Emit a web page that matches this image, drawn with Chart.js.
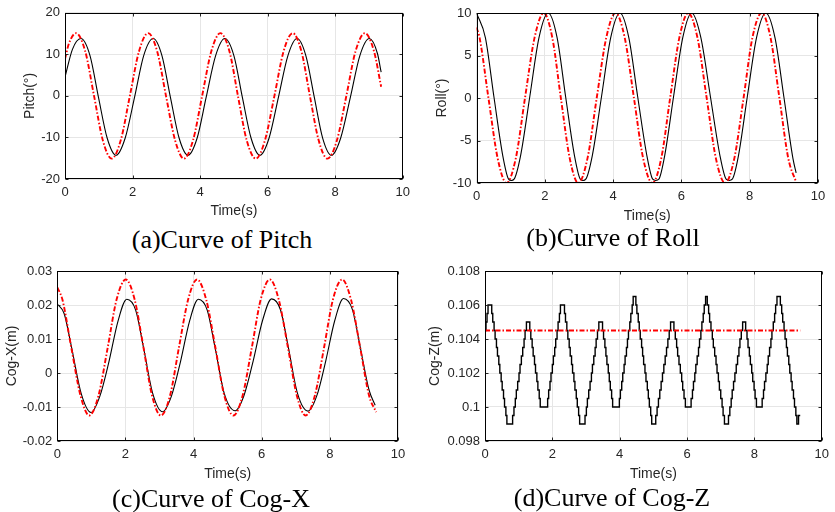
<!DOCTYPE html>
<html>
<head>
<meta charset="utf-8">
<script src="https://cdn.jsdelivr.net/npm/chart.js@4.4.0/dist/chart.umd.min.js"></script>
<style>
  body { margin: 0; width: 835px; height: 512px; background: #fff; position: relative; overflow: hidden; }
  .panel { position: absolute; }
  .caption {
    position: absolute;
    font-family: 'Liberation Serif', 'Times New Roman', serif;
    font-size: 26px;
    line-height: 1;
    color: #000;
    white-space: nowrap;
    transform: translate(-50%, -50%);
  }
</style>
</head>
<body>
<div class="panel" style="left:0px;top:0px;width:416px;height:224px"><canvas id="chartPitch"></canvas></div>
<div class="panel" style="left:417px;top:0px;width:418px;height:228px"><canvas id="chartRoll"></canvas></div>
<div class="panel" style="left:0px;top:256px;width:416px;height:230px"><canvas id="chartCogX"></canvas></div>
<div class="panel" style="left:417px;top:256px;width:418px;height:230px"><canvas id="chartCogZ"></canvas></div>

<div class="caption" style="left:222px;top:240px">(a)Curve of Pitch</div>
<div class="caption" style="left:613px;top:238px">(b)Curve of Roll</div>
<div class="caption" style="left:211px;top:499px">(c)Curve of Cog-X</div>
<div class="caption" style="left:612px;top:498px">(d)Curve of Cog-Z</div>

<script>
/* axis ticks */
const timeTicks = [0, 2, 4, 6, 8, 10];
const timeTickLabels = ['0', '2', '4', '6', '8', '10'];
const pitchTicks = [-20, -10, 0, 10, 20];
const pitchTickLabels = ['-20', '-10', '0', '10', '20'];
const rollTicks = [-10, -5, 0, 5, 10];
const rollTickLabels = ['-10', '-5', '0', '5', '10'];
const cogXTicks = [-0.02, -0.01, 0, 0.01, 0.02, 0.03];
const cogXTickLabels = ['-0.02', '-0.01', '0', '0.01', '0.02', '0.03'];
const cogZTicks = [0.098, 0.1, 0.102, 0.104, 0.106, 0.108];
const cogZTickLabels = ['0.098', '0.1', '0.102', '0.104', '0.106', '0.108'];

/* pitch (deg) - black solid / red dash-dot */
const pitchBlackTime = [0, 0.22, 0.47, 0.74, 0.99, 1.25, 1.51, 1.78, 2.06, 2.33, 2.61, 2.87, 3.12, 3.38, 3.64, 3.91, 4.18, 4.46, 4.73,
  5.0, 5.25, 5.51, 5.77, 6.04, 6.32, 6.6, 6.87, 7.13, 7.38, 7.63, 7.89, 8.16, 8.45, 8.73, 9.01, 9.25, 9.36];
const pitchBlack = [4.5, 11.2, 13.8, 9.7, -0.3, -10.2, -14.3, -10.2, -0.3, 9.7, 13.8, 9.7, -0.3, -10.2, -14.3, -10.2, -0.3, 9.7, 13.8,
  9.7, -0.3, -10.2, -14.3, -10.2, -0.3, 9.7, 13.8, 9.7, -0.3, -10.2, -14.3, -10.2, -0.3, 9.7, 13.8, 10.2, 5.7];
const pitchRedTime = [0, 0.12, 0.33, 0.6, 0.86, 1.12, 1.38, 1.65, 1.92, 2.19, 2.46, 2.73, 2.99, 3.26, 3.52, 3.79, 4.06, 4.33, 4.6,
  4.87, 5.12, 5.38, 5.65, 5.92, 6.2, 6.47, 6.74, 7.0, 7.25, 7.51, 7.77, 8.05, 8.33, 8.6, 8.88, 9.15, 9.36];
const pitchRed = [8.9, 12.7, 15.1, 10.7, 0, -10.7, -15.1, -10.7, 0, 10.7, 15.1, 10.7, 0, -10.7, -15.1, -10.7, 0, 10.7, 15.1,
  10.7, 0, -10.7, -15.1, -10.7, 0, 10.7, 15.1, 10.7, 0, -10.7, -15.1, -10.7, 0, 10.7, 15.1, 10.7, 2.2];

/* roll (deg) */
const rollBlackTime = [0, 0.26, 0.51, 0.77, 0.94, 1.02, 1.1, 1.29, 1.56, 1.83, 2.1, 2.36, 2.61, 2.87, 3.04, 3.12, 3.2, 3.39, 3.66, 3.93,
  4.2, 4.46, 4.72, 4.99, 5.16, 5.25, 5.34, 5.51, 5.77, 6.04, 6.3, 6.57, 6.85, 7.13, 7.31, 7.4, 7.49, 7.67, 7.93, 8.2,
  8.47, 8.74, 9.0, 9.27, 9.36];
const rollBlack = [10, 7.1, 0.15, -6.8, -9.55, -9.7, -9.55, -6.8, 0.15, 7.1, 10, 7.1, 0.15, -6.8, -9.55, -9.7, -9.55, -6.8, 0.15, 7.1,
  10, 7.1, 0.15, -6.8, -9.55, -9.7, -9.55, -6.8, 0.15, 7.1, 10, 7.1, 0.15, -6.8, -9.55, -9.7, -9.55, -6.8, 0.15, 7.1,
  10, 7.1, 0.15, -7.2, -8.8];
const rollRedTime = [0, 0.09, 0.35, 0.62, 0.88, 1.15, 1.42, 1.7, 1.97, 2.22, 2.47, 2.73, 2.98, 3.25, 3.52, 3.8, 4.07, 4.34, 4.61,
  4.88, 5.15, 5.41, 5.67, 5.94, 6.2, 6.47, 6.74, 7.01, 7.28, 7.55, 7.82, 8.08, 8.35, 8.61, 8.87, 9.13, 9.36];
const rollRed = [8.3, 7.1, 0, -7.1, -10, -7.1, 0, 7.1, 10, 7.1, 0, -7.1, -10, -7.1, 0, 7.1, 10, 7.1, 0,
  -7.1, -10, -7.1, 0, 7.1, 10, 7.1, 0, -7.1, -10, -7.1, 0, 7.1, 10, 7.1, 0, -7.1, -9.9];

/* Cog-X (m) */
const cogXBlackTime = [0, 0.2, 0.42, 0.7, 0.99, 1.25, 1.52, 1.78, 2.04, 2.3, 2.53, 2.8, 3.09, 3.35, 3.62, 3.88, 4.14,
  4.4, 4.63, 4.9, 5.22, 5.48, 5.75, 6.02, 6.29, 6.55, 6.78, 7.05, 7.36, 7.62, 7.88, 8.14, 8.4, 8.66, 8.89, 9.15, 9.33];
const cogXBlack = [0.0203, 0.0175, 0.0075, -0.006, -0.0116, -0.0068, 0.0035, 0.0152, 0.0217, 0.0185, 0.0075, -0.006, -0.0114,
  -0.0068, 0.0035, 0.0152, 0.0217, 0.0185, 0.0075, -0.006, -0.0111, -0.0066, 0.0036, 0.0153, 0.0218, 0.0186, 0.0076, -0.006,
  -0.0112, -0.0066, 0.0036, 0.0153, 0.0219, 0.0187, 0.0077, -0.005, -0.0095];
const cogXRedTime = [0, 0.15, 0.41, 0.68, 0.94, 1.21, 1.48, 1.74, 2.01, 2.27, 2.53, 2.78, 3.04, 3.31, 3.57, 3.84, 4.1,
  4.37, 4.64, 4.9, 5.17, 5.44, 5.71, 5.97, 6.24, 6.5, 6.77, 7.03, 7.29, 7.56, 7.83, 8.09, 8.36, 8.62, 8.89, 9.15, 9.36];
const cogXRed = [0.0252, 0.0216, 0.0075, -0.0066, -0.0125, -0.0066, 0.0075, 0.0216, 0.0275, 0.0216, 0.0075, -0.0066, -0.0125,
  -0.0066, 0.0075, 0.0216, 0.0275, 0.0216, 0.0075, -0.0066, -0.0125, -0.0066, 0.0075, 0.0216, 0.0275, 0.0216, 0.0075, -0.0066,
  -0.0125, -0.0066, 0.0075, 0.0216, 0.0275, 0.0216, 0.0075, -0.0066, -0.0115];

/* Cog-Z (m) - black is a quantised staircase, one entry per level change */
const cogZBlackTime = [
  0, 0.03, 0.06, 0.09,
  0.20, 0.23, 0.27, 0.30, 0.34, 0.37, 0.41, 0.44, 0.48, 0.51, 0.55, 0.58, 0.62, 0.65,
  0.82, 0.86, 0.90, 0.93, 0.97, 1.01, 1.04, 1.08, 1.12, 1.16, 1.19, 1.23,
  1.33, 1.36, 1.40, 1.43, 1.47, 1.50, 1.54, 1.57, 1.61, 1.64,
  1.86, 1.89, 1.93, 1.96, 2.00, 2.03, 2.07, 2.10, 2.14, 2.17, 2.21, 2.24,
  2.36, 2.39, 2.43, 2.46, 2.50, 2.53, 2.57, 2.60, 2.64, 2.67, 2.71, 2.74, 2.78, 2.81,
  2.97, 3.01, 3.04, 3.08, 3.12, 3.16, 3.19, 3.23, 3.27, 3.30, 3.34, 3.38,
  3.49, 3.52, 3.56, 3.59, 3.62, 3.66, 3.69, 3.72, 3.76, 3.79,
  3.99, 4.02, 4.06, 4.09, 4.13, 4.16, 4.20, 4.23, 4.26, 4.30, 4.33, 4.37, 4.40,
  4.48, 4.51, 4.55, 4.58, 4.61, 4.65, 4.68, 4.71, 4.75, 4.78, 4.82, 4.85, 4.88, 4.92, 4.95,
  5.07, 5.11, 5.15, 5.19, 5.23, 5.27, 5.31, 5.35, 5.39, 5.43, 5.47, 5.51,
  5.61, 5.65, 5.69, 5.72, 5.76, 5.80, 5.84, 5.87, 5.91, 5.95,
  6.12, 6.16, 6.19, 6.23, 6.26, 6.30, 6.34, 6.37, 6.41, 6.44, 6.48, 6.51, 6.55,
  6.60, 6.64, 6.67, 6.71, 6.75, 6.78, 6.82, 6.86, 6.89, 6.93, 6.96, 7.00, 7.04, 7.07, 7.11,
  7.23, 7.27, 7.31, 7.34, 7.38, 7.42, 7.46, 7.50, 7.54, 7.57, 7.61, 7.65,
  7.74, 7.78, 7.81, 7.85, 7.88, 7.92, 7.95, 7.99, 8.02, 8.06,
  8.23, 8.27, 8.30, 8.34, 8.38, 8.41, 8.45, 8.49, 8.52, 8.56, 8.60, 8.63, 8.67,
  8.77, 8.81, 8.84, 8.88, 8.91, 8.95, 8.98, 9.02, 9.05, 9.09, 9.12, 9.16, 9.19, 9.23, 9.26,
  9.31, 9.36
];
const cogZBlack = [
  0.1045, 0.105, 0.1055, 0.106,
  0.1055, 0.105, 0.1045, 0.104, 0.1035, 0.103, 0.1025, 0.102, 0.1015, 0.101, 0.1005, 0.1, 0.0995, 0.099,
  0.0995, 0.1, 0.1005, 0.101, 0.1015, 0.102, 0.1025, 0.103, 0.1035, 0.104, 0.1045, 0.105,
  0.1045, 0.104, 0.1035, 0.103, 0.1025, 0.102, 0.1015, 0.101, 0.1005, 0.1,
  0.1005, 0.101, 0.1015, 0.102, 0.1025, 0.103, 0.1035, 0.104, 0.1045, 0.105, 0.1055, 0.106,
  0.1055, 0.105, 0.1045, 0.104, 0.1035, 0.103, 0.1025, 0.102, 0.1015, 0.101, 0.1005, 0.1, 0.0995, 0.099,
  0.0995, 0.1, 0.1005, 0.101, 0.1015, 0.102, 0.1025, 0.103, 0.1035, 0.104, 0.1045, 0.105,
  0.1045, 0.104, 0.1035, 0.103, 0.1025, 0.102, 0.1015, 0.101, 0.1005, 0.1,
  0.1005, 0.101, 0.1015, 0.102, 0.1025, 0.103, 0.1035, 0.104, 0.1045, 0.105, 0.1055, 0.106, 0.1065,
  0.106, 0.1055, 0.105, 0.1045, 0.104, 0.1035, 0.103, 0.1025, 0.102, 0.1015, 0.101, 0.1005, 0.1, 0.0995, 0.099,
  0.0995, 0.1, 0.1005, 0.101, 0.1015, 0.102, 0.1025, 0.103, 0.1035, 0.104, 0.1045, 0.105,
  0.1045, 0.104, 0.1035, 0.103, 0.1025, 0.102, 0.1015, 0.101, 0.1005, 0.1,
  0.1005, 0.101, 0.1015, 0.102, 0.1025, 0.103, 0.1035, 0.104, 0.1045, 0.105, 0.1055, 0.106, 0.1065,
  0.106, 0.1055, 0.105, 0.1045, 0.104, 0.1035, 0.103, 0.1025, 0.102, 0.1015, 0.101, 0.1005, 0.1, 0.0995, 0.099,
  0.0995, 0.1, 0.1005, 0.101, 0.1015, 0.102, 0.1025, 0.103, 0.1035, 0.104, 0.1045, 0.105,
  0.1045, 0.104, 0.1035, 0.103, 0.1025, 0.102, 0.1015, 0.101, 0.1005, 0.1,
  0.1005, 0.101, 0.1015, 0.102, 0.1025, 0.103, 0.1035, 0.104, 0.1045, 0.105, 0.1055, 0.106, 0.1065,
  0.106, 0.1055, 0.105, 0.1045, 0.104, 0.1035, 0.103, 0.1025, 0.102, 0.1015, 0.101, 0.1005, 0.1, 0.0995, 0.099,
  0.0995, 0.0995
];
const cogZRedTime = [0, 9.36];
const cogZRed = [0.1045, 0.1045];


window.addEventListener('DOMContentLoaded', () => {
  const tickFont = { family: "'Liberation Sans', Arial, sans-serif", size: 13 };
  const titleFont = { family: "'Liberation Sans', Arial, sans-serif", size: 14 };
  const textColor = '#262626';
  const gridColor = '#e6e6e6';

  /* box frame + small inward ticks, matlab style */
  const axesBox = {
    id: 'axesBox',
    afterDraw(chart) {
      const { ctx, chartArea: a, scales: { x, y } } = chart;
      const l = Math.round(a.left) + 0.5, r = Math.round(a.right) - 0.5;
      const t = Math.round(a.top) + 0.5, b = Math.round(a.bottom) - 0.5;
      ctx.save();
      ctx.lineWidth = 1;
      ctx.strokeStyle = textColor;
      ctx.beginPath();
      x.ticks.forEach(tk => {
        const px = Math.round(x.getPixelForValue(tk.value)) + 0.5;
        ctx.moveTo(px, b); ctx.lineTo(px, b - 3);
        ctx.moveTo(px, t); ctx.lineTo(px, t + 3);
      });
      y.ticks.forEach(tk => {
        const py = Math.round(y.getPixelForValue(tk.value)) + 0.5;
        ctx.moveTo(l, py); ctx.lineTo(l + 3, py);
        ctx.moveTo(r, py); ctx.lineTo(r - 3, py);
      });
      ctx.stroke();
      ctx.strokeStyle = '#000';
      ctx.strokeRect(l, t, r - l, b - t);
      ctx.restore();
    }
  };

  const blackLine = (times, values, stepped) => ({
    data: times.map((tm, i) => ({ x: tm, y: values[i] })),
    borderColor: '#000000',
    borderWidth: stepped ? 1.4 : 1.1,
    cubicInterpolationMode: 'monotone',
    stepped: stepped || false,
    pointRadius: 0,
    fill: false
  });

  const redLine = (times, values) => ({
    data: times.map((tm, i) => ({ x: tm, y: values[i] })),
    borderColor: '#ff0000',
    borderWidth: 1.9,
    borderDash: [5, 2, 1.5, 2],
    cubicInterpolationMode: 'monotone',
    pointRadius: 0,
    fill: false
  });

  function makePanel(selector, datasets, yTicks, yLabels, yTitle, box) {
    new Chart(document.querySelector(selector), {
      type: 'line',
      data: { datasets: datasets },
      options: {
        responsive: true,
        maintainAspectRatio: false,
        animation: false,
        layout: { padding: { left: 0, right: box.padRight, top: box.padTop, bottom: 0 } },
        plugins: {
          legend: { display: false },
          tooltip: { enabled: false }
        },
        scales: {
          x: {
            type: 'linear',
            min: 0,
            max: 10,
            afterBuildTicks: s => { s.ticks = timeTicks.map(v => ({ value: v })); },
            afterFit: s => { s.height = box.xHeight; },
            grid: { color: gridColor, drawTicks: false },
            border: { display: false },
            ticks: {
              color: textColor,
              font: tickFont,
              padding: 6,
              maxRotation: 0,
              callback: (v, i) => timeTickLabels[i]
            },
            title: {
              display: true,
              text: 'Time(s)',
              color: textColor,
              font: titleFont,
              padding: { top: 0, bottom: box.xTitlePad }
            }
          },
          y: {
            type: 'linear',
            min: yTicks[0],
            max: yTicks[yTicks.length - 1],
            afterBuildTicks: s => { s.ticks = yTicks.map(v => ({ value: v })); },
            afterFit: s => { s.width = box.yWidth; },
            grid: { color: gridColor, drawTicks: false },
            border: { display: false },
            ticks: {
              color: textColor,
              font: tickFont,
              padding: 5,
              callback: (v, i) => yLabels[i]
            },
            title: {
              display: true,
              text: yTitle,
              color: textColor,
              font: titleFont,
              padding: { top: box.yTitlePad, bottom: 0 }
            }
          }
        }
      },
      plugins: [axesBox]
    });
  }

  /* (a) pitch */
  makePanel('#chartPitch',
    [redLine(pitchRedTime, pitchRed), blackLine(pitchBlackTime, pitchBlack)],
    pitchTicks, pitchTickLabels, 'Pitch(°)',
    { padRight: 10, padTop: 10, yWidth: 65, xHeight: 45, xTitlePad: 4.6, yTitlePad: 21.6 });

  /* (b) roll */
  makePanel('#chartRoll',
    [redLine(rollRedTime, rollRed), blackLine(rollBlackTime, rollBlack)],
    rollTicks, rollTickLabels, 'Roll(°)',
    { padRight: 17, padTop: 13, yWidth: 59.5, xHeight: 45, xTitlePad: 3.6, yTitlePad: 16.3 });

  /* (c) cog-x */
  makePanel('#chartCogX',
    [redLine(cogXRedTime, cogXRed), blackLine(cogXBlackTime, cogXBlack)],
    cogXTicks, cogXTickLabels, 'Cog-X(m)',
    { padRight: 18, padTop: 15, yWidth: 57.3, xHeight: 45, xTitlePad: 3.6, yTitlePad: 3.6 });

  /* (d) cog-z */
  makePanel('#chartCogZ',
    [redLine(cogZRedTime, cogZRed), blackLine(cogZBlackTime, cogZBlack, true)],
    cogZTicks, cogZTickLabels, 'Cog-Z(m)',
    { padRight: 11, padTop: 15, yWidth: 68, xHeight: 45, xTitlePad: 3.6, yTitlePad: 9.6 });
});
</script>
</body>
</html>
